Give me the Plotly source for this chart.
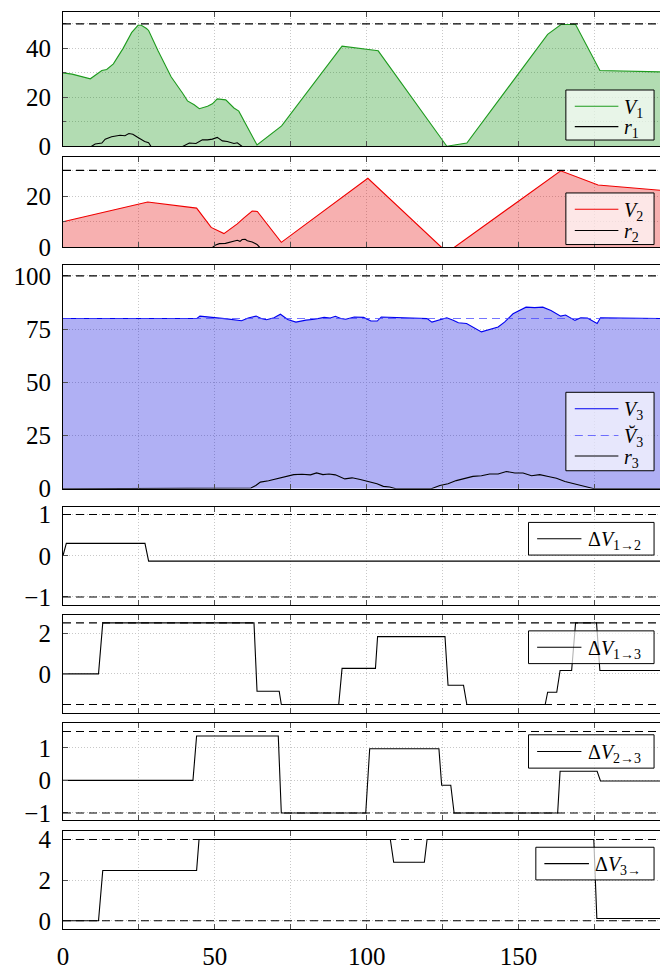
import plotly.graph_objects as go
from plotly.subplots import make_subplots

W, H = 660, 975
X_MAX = 196.6

# ---------------- data ----------------
V1_x = [0, 3, 9, 10.6, 12.8, 14.4, 16.6, 19.8, 22.6, 24.7, 25.8, 27.5, 28.2, 31.3, 35.6, 39.4, 41, 43.2, 44.9,
        47.6, 49.2, 50.8, 53.6, 56.3, 57.9, 63.9, 72, 91.9, 103.8, 126.4, 133, 159.6, 164, 168.8, 176.8, 197]
V1_y = [30, 29.5, 27.6, 29, 31, 31.4, 33.7, 40, 46.4, 49.4, 49.4, 48.1, 47.3, 39, 28.4, 21.7, 18.6, 17, 15.4,
        16.4, 17.4, 19.4, 19, 15.7, 14.4, 0.6, 8.4, 40.9, 39, 0.1, 1.4, 45.7, 49.7, 49.7, 31, 30.4]
r1_x = [0, 9.3, 10.6, 12.8, 13.9, 16, 18.8, 20.4, 21.7, 23, 24.7, 26.9, 28.2, 29, 39.4, 41.6, 43.8, 45.9, 47.6,
        49.2, 50.8, 52.5, 54.1, 56.3, 57.4, 59, 197]
r1_y = [0, 0, 1, 1.4, 3, 4, 4.6, 4.4, 5.3, 5, 3.7, 2, 1.5, 0, 0, 1.4, 1.2, 2.7, 2.7, 3, 3.7, 2.3, 2, 1.2, 1.5, 0, 0]

V2_x = [0, 27.9, 44, 48.8, 53, 57.4, 59.5, 62.3, 64, 71.9, 100.4, 124.7, 128.8, 163.9, 176.2, 197]
V2_y = [10, 17.7, 15.3, 7.8, 5.4, 9.2, 11.4, 14.2, 14, 2, 26.9, 0, 0, 29.8, 24.3, 22.2]
r2_x = [0, 49.2, 50.3, 51.5, 53.5, 55.2, 57.4, 58.3, 59, 60, 60.7, 62.3, 63.9, 64.8, 197]
r2_y = [0, 0, 1, 1.5, 1.6, 2.1, 2.8, 2.4, 3.1, 3.2, 2.6, 2.1, 1.2, 0, 0]

V3_x = [0, 44.1, 45.1, 49.6, 54, 58.8, 61, 63.6, 65.3, 67, 69.5, 71.6, 74, 76.7, 80, 82.8, 86, 88, 89.7, 91.5,
        93.1, 95.9, 99, 101.4, 103.5, 104.8, 119.9, 121.5, 124.2, 126.4, 128.5, 130.2, 132.9, 137.8, 143.3,
        145.4, 148.2, 152.5, 155.3, 158, 160.7, 163.9, 165.5, 168.6, 170.5, 172.7, 175.9, 177, 197]
V3_y = [80, 80, 81.1, 80.5, 79.8, 78.9, 80.2, 81.1, 80, 79.4, 80.3, 82, 79.5, 78.3, 79.2, 79.6, 80.5, 80.2, 81, 80,
        79.6, 80.7, 80.5, 78.8, 78.8, 80.7, 79.9, 78.3, 79.5, 80.3, 79.2, 78, 77.6, 73.7, 76,
        78.3, 82.2, 85.3, 85.1, 85.3, 83.7, 81.1, 81.6, 79.1, 80.3, 80.2, 77.6, 80.3, 80]
V3ref_x = [0, 197]
V3ref_y = [80, 80]
r3_x = [0, 59.8, 61.9, 63.5, 65, 67.7, 70.5, 73.2, 76, 78.7, 81.5, 83.5, 85.6, 87.6, 89.7, 92.8, 95.2, 97.9, 100.7,
        103.4, 105.5, 107.6, 109.6, 121.3, 124.1, 126.8, 129.5, 132.3, 135, 137.8, 140.5, 143.3, 146, 148.8,
        151.5, 154.3, 157, 159.8, 162.5, 165.3, 168.7, 172.2, 174.9, 197]
r3_y = [0, 0, 0.3, 1.5, 3.1, 3.7, 4.6, 5.8, 6.6, 6.8, 6.5, 7.4, 6.6, 6.9, 6.5, 4.6, 5.1, 4.3, 3.4,
        2.3, 1.1, 0.8, 0, 0, 1.5, 2.3, 3.8, 4.9, 5.8, 6.1, 6.9, 6.9, 8.1, 7.4,
        7.4, 6.1, 6.6, 5.7, 4.9, 3.4, 2.3, 1.1, 0, 0]

dV12_x = [0, 1.1, 27, 28.2, 197]
dV12_y = [0, 0.3, 0.3, -0.13, -0.13]
dV13_x = [0, 11.7, 13.1, 62.9, 63.9, 71.2, 71.9, 90.8, 91.9, 102.9, 103.6, 125.8, 126.8, 131.9, 133, 158.8,
          159.6, 162.6, 163.7, 167.5, 168.8, 175.7, 176.8, 197]
dV13_y = [0, 0, 2.5, 2.5, -0.85, -0.85, -1.5, -1.5, 0.27, 0.27, 1.83, 1.83, -0.56, -0.56, -1.5, -1.5,
          -0.9, -0.9, 0.17, 0.17, 2.5, 2.5, 0.17, 0.17]
dV23_x = [0, 42.8, 44, 70.9, 71.9, 99.7, 101, 123.8, 124.7, 127.7, 128.8, 162.9, 163.7, 175.9, 177, 197]
dV23_y = [0, 0, 1.36, 1.36, -1, -1, 0.97, 0.97, -0.15, -0.15, -1, -1, 0.28, 0.28, -0.02, -0.02]
dV3_x = [0, 11.7, 13.1, 44, 44.8, 107.8, 108.9, 119, 119.9, 174.8, 175.8, 197]
dV3_y = [0, 0, 2.47, 2.47, 4, 4, 2.88, 2.88, 4, 4, 0.11, 0.11]

limits = [[50], [30], [100], [1, -1], [2.5, -1.5], [1.5, -1], [4, 0]]
y_ranges = [[0, 55], [0, 35.2], [0, 105.2], [-1.19, 1.19], [-1.9, 2.88], [-1.23, 1.76], [-0.4, 4.42]]
y_ticks = [[0, 20, 40], [0, 20], [0, 25, 50, 75, 100], [-1, 0, 1], [0, 2], [-1, 0, 1], [0, 2, 4]]
y_minor = [10, 10, None, None, None, None, None]
x_ticks = [0, 50, 100, 150]

# legend labels per panel
legend_labels = [
    ["<i>V</i><sub>1</sub>", "<i>r</i><sub>1</sub>"],
    ["<i>V</i><sub>2</sub>", "<i>r</i><sub>2</sub>"],
    ["<i>V</i><sub>3</sub>", "<i>V\u0306</i><sub>3</sub>", "<i>r</i><sub>3</sub>"],
    ["\u0394<i>V</i><sub>1\u21922</sub>"],
    ["\u0394<i>V</i><sub>1\u21923</sub>"],
    ["\u0394<i>V</i><sub>2\u21923</sub>"],
    ["\u0394<i>V</i><sub>3\u2192</sub>"],
]

# ---------------- styles / geometry (pixels) ----------------
C_V1, F_V1 = "rgb(30,155,30)", "rgba(0,140,0,0.3)"
C_V2, F_V2 = "rgb(240,0,0)", "rgba(230,10,10,0.32)"
C_V3, F_V3 = "rgb(0,0,240)", "rgba(10,10,220,0.32)"
C_REF = "rgba(70,70,255,0.75)"
DASH = "8px,5px"
legend_styles = [
    [(C_V1, "solid"), ("black", "solid")],
    [(C_V2, "solid"), ("black", "solid")],
    [(C_V3, "solid"), (C_REF, DASH), ("black", "solid")],
    [("black", "solid")], [("black", "solid")], [("black", "solid")], [("black", "solid")],
]
panels_px = [(6.7, 144.3), (155, 247.3), (265, 493.3), (511.7, 611.7), (622.3, 721.7), (732.3, 831.7),
             (842.3, 942.3)]
# box x0, y0, x1, y1, sample x0, sample x1, text x, entry y's
legend_geo = [
    (565, 86.7, 654, 137.7, 574, 618, 622, [103.3, 124]),
    (565, 191.7, 654, 244.3, 574, 618, 622, [208.3, 230]),
    (565, 395, 654, 475, 574, 618, 622, [411.7, 439, 460]),
    (527.3, 527.7, 654, 561, 536, 580.7, 585, [544.3]),
    (527.3, 638.3, 654, 671.7, 536, 580.7, 585, [655]),
    (527.3, 744.3, 654, 778.3, 536, 580.7, 585, [761.3]),
    (534.7, 859, 654, 892.3, 543.3, 588.3, 592, [875.7]),
]
X0_PX = 57.5

FONT = "Liberation Serif"
GRID = "rgb(200,200,200)"
TICKC = "rgb(80,80,80)"

fig = make_subplots(rows=7, cols=1, shared_xaxes=True, vertical_spacing=0.01)

def add_fill(row, x, y, fillcolor):
    fig.add_trace(go.Scatter(x=x, y=y, mode="lines", line=dict(width=0, color=fillcolor),
                             fill="tozeroy", fillcolor=fillcolor, showlegend=False,
                             hoverinfo="skip"), row=row, col=1)

def add(row, x, y, color, dash="solid", width=1.1):
    fig.add_trace(go.Scatter(x=x, y=y, mode="lines", showlegend=False,
                             line=dict(color=color, width=width, dash=dash),
                             hoverinfo="skip"), row=row, col=1)

add_fill(1, V1_x, V1_y, F_V1)
add(1, V1_x, V1_y, C_V1)
add(1, r1_x, r1_y, "black")
add_fill(2, V2_x, V2_y, F_V2)
add(2, V2_x, V2_y, C_V2)
add(2, r2_x, r2_y, "black")
add_fill(3, V3_x, V3_y, F_V3)
add(3, V3_x, V3_y, C_V3)
add(3, V3ref_x, V3ref_y, C_REF, dash=DASH)
add(3, r3_x, r3_y, "black")
add(4, dV12_x, dV12_y, "black")
add(5, dV13_x, dV13_y, "black")
add(6, dV23_x, dV23_y, "black")
add(7, dV3_x, dV3_y, "black")

for i in range(7):
    row = i + 1
    for v in limits[i]:
        fig.add_hline(y=v, row=row, col=1, line=dict(color="black", width=1.1, dash=DASH))

def px_x(p):
    return p / W

def px_y(p):
    return 1 - p / H

# legends (box, line samples, labels)
for i in range(7):
    bx0, by0, bx1, by1, sx0, sx1, tx, ys = legend_geo[i]
    fig.add_shape(type="rect", xref="paper", yref="paper", x0=px_x(bx0), x1=px_x(bx1),
                  y0=px_y(by1), y1=px_y(by0), fillcolor="rgba(255,255,255,0.7)",
                  line=dict(color="black", width=1), layer="above")
    for (color, dash), label, yy in zip(legend_styles[i], legend_labels[i], ys):
        fig.add_shape(type="line", xref="paper", yref="paper", x0=px_x(sx0), x1=px_x(sx1),
                      y0=px_y(yy), y1=px_y(yy), line=dict(color=color, width=1.1, dash=dash), layer="above")
        fig.add_annotation(xref="paper", yref="paper", x=px_x(tx), y=px_y(yy), xanchor="left",
                           yanchor="middle", text=label, showarrow=False, yshift=-2,
                           font=dict(family=FONT, size=20, color="black"))

layout = dict(width=W, height=H, margin=dict(l=0, r=0, t=0, b=0),
              plot_bgcolor="white", paper_bgcolor="white", showlegend=False,
              font=dict(family=FONT, size=24, color="black"))

for i in range(7):
    row = i + 1
    top, bot = panels_px[i]
    suffix = "" if row == 1 else str(row)
    ya = dict(domain=[1 - bot / H, 1 - top / H], range=y_ranges[i], autorange=False,
              tickmode="array", tickvals=y_ticks[i], ticks="inside", ticklen=5, tickcolor=TICKC,
              showline=True, linecolor="black", linewidth=1, mirror=False,
              showgrid=True, gridcolor=GRID, griddash="1px,2px", gridwidth=1, zeroline=False,
              tickfont=dict(family=FONT, size=25, color="black"), ticklabelstandoff=6)
    if y_minor[i]:
        ya["minor"] = dict(dtick=y_minor[i], showgrid=True, gridcolor=GRID, griddash="1px,2px",
                           ticks="inside", ticklen=3, tickcolor=TICKC)
    layout["yaxis" + suffix] = ya
    xa = dict(domain=[X0_PX / W, 1], range=[0, X_MAX], autorange=False,
              tickmode="array", tickvals=x_ticks, ticks="inside", ticklen=5, tickcolor=TICKC,
              showline=True, linecolor="black", linewidth=1, mirror="allticks",
              showgrid=True, gridcolor=GRID, griddash="1px,2px", zeroline=False,
              minor=dict(dtick=25, tick0=0, showgrid=True, gridcolor=GRID, griddash="1px,2px",
                         ticks="inside", ticklen=5, tickcolor=TICKC),
              tickfont=dict(family=FONT, size=25, color="black"),
              showticklabels=(row == 7), ticklabelstandoff=5)
    layout["xaxis" + suffix] = xa

fig.update_layout(**layout)
fig.write_html("out.html")
